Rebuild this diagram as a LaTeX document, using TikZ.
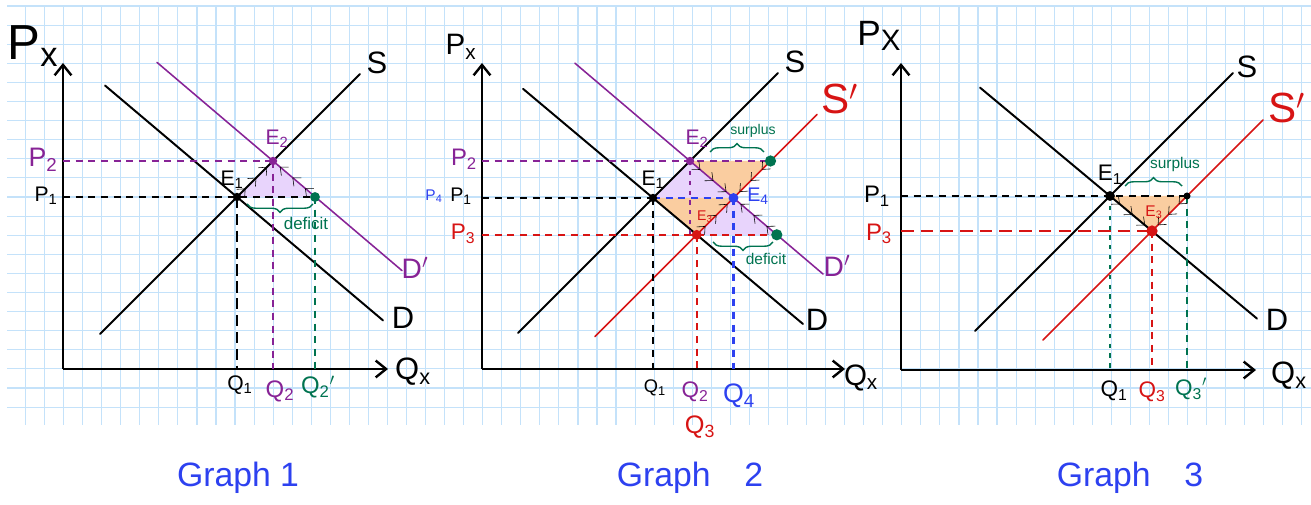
\documentclass[tikz,border=0pt]{standalone}
\usepackage{fontspec}
\setmainfont{Liberation Sans}
\usetikzlibrary{arrows.meta,decorations.pathreplacing,decorations.markings}

\definecolor{econpurple}{RGB}{135,35,150}
\definecolor{econred}{RGB}{215,20,20}
\definecolor{econgreen}{RGB}{0,115,80}
\definecolor{econblue}{RGB}{45,65,240}
\definecolor{gridblue}{RGB}{196,226,250}
\definecolor{lavender}{RGB}{232,212,252}
\definecolor{peach}{RGB}{250,205,160}

\newcommand{\fs}[1]{\fontsize{#1}{#1}\selectfont}

\begin{document}
\begin{tikzpicture}[x=0.025cm, y=-0.025cm,
    gridline/.style={gridblue, line width=0.8pt},
    curve/.style={line width=1.4pt, line cap=round},
    shifted/.style={line width=1.1pt, line cap=round},
    axis/.style={line width=1.7pt, -{Straight Barb[length=2.6mm,width=4.2mm]}},
    guide/.style={line width=1.2pt, dash pattern=on 5pt off 4pt},
    brace/.style={decorate, decoration={brace, amplitude=6pt}, econgreen, line width=1pt},
    flow/.style={decorate, decoration={markings, mark=between positions 0.25 and 0.9 step 0.3 with {\arrow{Straight Barb[length=4.5pt,width=8pt]}}}, econgreen, line width=1.1pt},
    eqdot/.style={circle, fill, inner sep=0pt, minimum size=#1},
  ]
    \fill[white] (0,0) rectangle (1311,505);
    \useasboundingbox (0,0) rectangle (1311,505);
    \foreach \i in {0,...,67}
      \draw[gridline] ({25.5+19.05*\i},6) -- ({25.5+19.05*\i},425);
    \foreach \j in {0,...,21}
      \draw[gridline] (7,{6+19.1*\j}) -- (1311,{6+19.1*\j});

    % graph 1
    \coordinate (O1) at (63,369);
    \coordinate (E1a) at (237,197);
    \coordinate (E2a) at (273,161);
    \coordinate (G1dot) at (315,197);
    \fill[lavender] (E1a) -- (E2a) -- (G1dot) -- cycle;
    \draw[axis] (O1) -- (63,63);
    \draw[axis] (O1) -- (388,369);
    \draw[curve] (100,334) -- (360,74);
    \draw[curve] (105,85.5) -- (383,320.4);
    \draw[shifted,econpurple] (157,62.4) -- (402,270.6);
    \draw[guide,econpurple] (O1 |- E2a) -- (E2a);
    \draw[guide] (O1 |- E1a) -- (E1a) -- (G1dot);
    \draw[guide,dash pattern=on 8pt off 4pt] (E1a) -- (E1a |- O1);
    \draw[guide,econpurple] (E2a) -- (E2a |- O1);
    \draw[guide,econgreen] (G1dot) -- (G1dot |- O1);
    \path[flow] (E1a) -- (E2a);
    \path[flow] (G1dot) -- (E2a);
    \draw[brace,decoration={mirror}] (247,204) -- (313,204);
    \node[eqdot=6pt] (e1a) at (E1a) {};
    \node[eqdot=6pt,econpurple] (e2a) at (E2a) {};
    \node[eqdot=7pt,econgreen] (g1a) at (G1dot) {};
    \node[font=\fs{35}] (px1) at (33,46) {P\textsubscript{x}};
    \node[font=\fs{19},econpurple] (p2a) at (43,160) {P\textsubscript{2}};
    \node[font=\fs{15}] (p1a) at (46,196) {P\textsubscript{1}};
    \node[font=\fs{15}] (le1a) at (232,180) {E\textsubscript{1}};
    \node[font=\fs{15},econpurple] (le2a) at (277,139) {E\textsubscript{2}};
    \node[font=\fs{15}] (q1a) at (240,385) {Q\textsubscript{1}};
    \node[font=\fs{17},econpurple] (q2a) at (280,391) {Q\textsubscript{2}};
    \node[font=\fs{17},econgreen] (q2pa) at (318,387) {Q\textsubscript{2}\textsuperscript{$\prime$}};
    \node[font=\fs{12},econgreen] (defa) at (306,223) {deficit};
    \node[font=\fs{22}] (sa) at (377,63) {S};
    \node[font=\fs{22}] (da) at (403,318) {D};
    \node[font=\fs{20},econpurple] (dpa) at (415,268) {D\textsuperscript{$\prime$}};
    \node[font=\fs{22}] (qxa) at (413,372) {Q\textsubscript{x}};
    \node[font=\fs{24},econblue] (g1) at (238,478) {Graph 1};

    % graph 2
    \coordinate (O2) at (482,369);
    \coordinate (E1b) at (653,198);
    \coordinate (E2b) at (690,161);
    \coordinate (E4b) at (733.5,198);
    \coordinate (E3b) at (696.7,234.8);
    \coordinate (G2up) at (770.5,161);
    \coordinate (G2low) at (776.8,234.8);
    \fill[lavender] (E1b) -- (E2b) -- (E4b) -- cycle;
    \fill[lavender] (E3b) -- (E4b) -- (G2low) -- cycle;
    \fill[peach] (E2b) -- (G2up) -- (E4b) -- cycle;
    \fill[peach] (E1b) -- (E4b) -- (E3b) -- cycle;
    \draw[axis] (O2) -- (482,63);
    \draw[axis] (O2) -- (845,369);
    \draw[curve] (518,333) -- (778,73);
    \draw[curve] (523,88.8) -- (803,324);
    \draw[shifted,econpurple] (575,63.25) -- (823,274);
    \draw[shifted,econred] (595,336.5) -- (817,114.5);
    \draw[guide,econpurple] (O2 |- E2b) -- (E2b) -- (G2up);
    \draw[guide] (O2 |- E1b) -- (E1b);
    \draw[guide,econblue,line width=1.8pt] (E1b) -- (E4b);
    \draw[guide,econred] (O2 |- E3b) -- (E3b) -- (G2low);
    \draw[guide] (E1b) -- (E1b |- O2);
    \draw[guide,econpurple,dash pattern=on 3pt off 4pt] (E2b) -- (E2b |- E3b);
    \draw[guide,econred,line width=1.4pt] (E3b) -- (E3b |- O2);
    \draw[guide,econblue,line width=1.8pt] (E4b) -- (E4b |- O2);
    \path[flow] (E2b) -- (E4b);
    \path[flow] (G2up) -- (E4b);
    \path[flow] (E3b) -- (E4b);
    \path[flow] (G2low) -- (E4b);
    \draw[brace] (710,152) -- (764,152);
    \draw[brace,decoration={mirror}] (713,242) -- (773,242);
    \node[eqdot=6pt] (e1b) at (E1b) {};
    \node[eqdot=6pt,econpurple] (e2b) at (E2b) {};
    \node[eqdot=7pt,econblue] (e4b) at (E4b) {};
    \node[eqdot=7pt,econred] (e3b) at (E3b) {};
    \node[eqdot=8pt,econgreen] (g2u) at (G2up) {};
    \node[eqdot=8pt,econgreen] (g2l) at (G2low) {};
    \node[font=\fs{21}] (px2) at (461,47) {P\textsubscript{x}};
    \node[font=\fs{17},econpurple] (p2b) at (464,159) {P\textsubscript{2}};
    \node[font=\fs{14}] (p1b) at (461,196) {P\textsubscript{1}};
    \node[font=\fs{11},econblue] (p4b) at (434,196) {P\textsubscript{4}};
    \node[font=\fs{16},econred] (p3b) at (463,234) {P\textsubscript{3}};
    \node[font=\fs{15}] (le1b) at (653,180) {E\textsubscript{1}};
    \node[font=\fs{15},econpurple] (le2b) at (697,139) {E\textsubscript{2}};
    \node[font=\fs{14},econblue] (le4b) at (758,196) {E\textsubscript{4}};
    \node[font=\fs{10},econred] (le3b) at (705,217) {E\textsubscript{3}};
    \node[font=\fs{10},econgreen] (surb) at (753,131) {surplus};
    \node[font=\fs{11},econgreen] (defb) at (766,259) {deficit};
    \node[font=\fs{13}] (q1b) at (655,388) {Q\textsubscript{1}};
    \node[font=\fs{16},econpurple] (q2b) at (695,392) {Q\textsubscript{2}};
    \node[font=\fs{18},econred] (q3b) at (700,427) {Q\textsubscript{3}};
    \node[font=\fs{19},econblue] (q4b) at (739,396) {Q\textsubscript{4}};
    \node[font=\fs{22}] (sb) at (795,62) {S};
    \node[font=\fs{30},econred] (spb) at (840,99) {S\textsuperscript{$\prime$}};
    \node[font=\fs{22}] (db) at (817,320) {D};
    \node[font=\fs{20},econpurple] (dpb) at (837,266) {D\textsuperscript{$\prime$}};
    \node[font=\fs{21}] (qxb) at (861,378) {Q\textsubscript{x}};
    \node[font=\fs{24},econblue] (g2) at (690,478) {Graph\quad 2};

    % graph 3
    \coordinate (O3) at (901,370);
    \coordinate (E1c) at (1110,196);
    \coordinate (E3c) at (1152,231);
    \coordinate (G3dot) at (1187,196);
    \fill[peach] (E1c) -- (G3dot) -- (E3c) -- cycle;
    \draw[axis] (O3) -- (901,63);
    \draw[axis] (O3) -- (1256,370);
    \draw[curve] (975,331) -- (1233,73);
    \draw[curve] (980,87.6) -- (1257,318.6);
    \draw[shifted,econred] (1043,340) -- (1263,120);
    \draw[guide] (O3 |- E1c) -- (E1c) -- (G3dot);
    \draw[guide,econred,dash pattern=on 9pt off 5pt] (O3 |- E3c) -- (E3c);
    \draw[guide,econgreen,dash pattern=on 3pt off 4pt] (E1c) -- (E1c |- O3);
    \draw[guide,econred] (E3c) -- (E3c |- O3);
    \draw[guide,econgreen] (G3dot) -- (G3dot |- O3);
    \path[flow] (E1c) -- (E3c);
    \path[flow] (G3dot) -- (E3c);
    \draw[brace] (1125,186) -- (1182,186);
    \node[eqdot=7pt] (e1c) at (E1c) {};
    \node[eqdot=5pt] (g3c) at (G3dot) {};
    \node[eqdot=8pt,econred] (e3c) at (E3c) {};
    \node[font=\fs{25}] (px3) at (879,36) {P\raisebox{-3pt}{\fs{21}X}};
    \node[font=\fs{17}] (p1c) at (877,196) {P\textsubscript{1}};
    \node[font=\fs{17},econred] (p3c) at (879,234) {P\textsubscript{3}};
    \node[font=\fs{16}] (le1c) at (1110,175) {E\textsubscript{1}};
    \node[font=\fs{11},econred] (le3c) at (1154,212) {E\textsubscript{3}};
    \node[font=\fs{11},econgreen] (surc) at (1175,165) {surplus};
    \node[font=\fs{16}] (q1c) at (1114,391) {Q\textsubscript{1}};
    \node[font=\fs{16},econred] (q3c) at (1152,392) {Q\textsubscript{3}};
    \node[font=\fs{16},econgreen] (q3pc) at (1191,389) {Q\textsubscript{3}\textsuperscript{$\prime$}};
    \node[font=\fs{22}] (sc) at (1247,67) {S};
    \node[font=\fs{30},econred] (spc) at (1287,108) {S\textsuperscript{$\prime$}};
    \node[font=\fs{22}] (dc) at (1277,320) {D};
    \node[font=\fs{22}] (qxc) at (1289,376) {Q\textsubscript{x}};
    \node[font=\fs{24},econblue] (g3) at (1130,478) {Graph\quad 3};
\end{tikzpicture}
\end{document}
